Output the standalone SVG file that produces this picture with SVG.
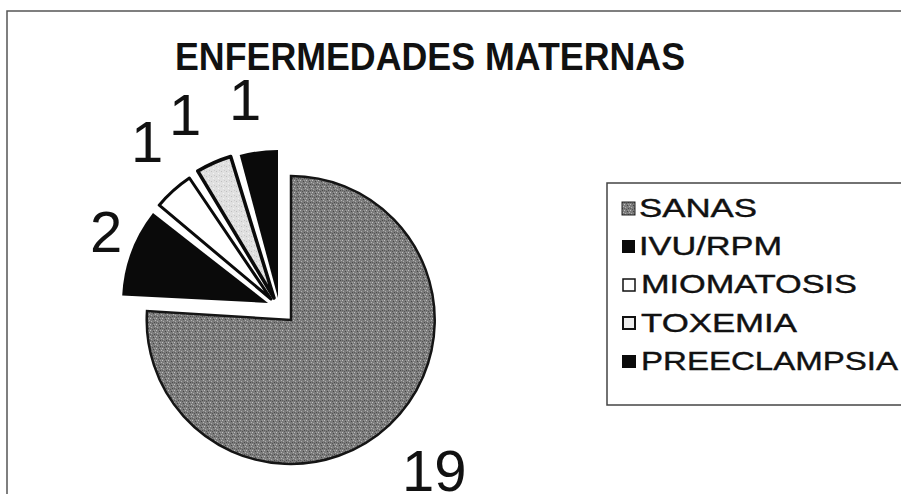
<svg xmlns="http://www.w3.org/2000/svg" width="901" height="494" viewBox="0 0 901 494">
<style>
.lbl{font-family:"Liberation Sans",Arial,sans-serif;font-size:58px;fill:#111}
.title{font-family:"Liberation Sans",Arial,sans-serif;font-size:38px;font-weight:bold;fill:#111}
.leg{font-family:"Liberation Sans",Arial,sans-serif;font-size:26px;fill:#111;stroke:#111;stroke-width:0.4}
.blk{fill:#0a0a0a}
</style>
<defs>
<pattern id="speck" width="6" height="6" patternUnits="userSpaceOnUse">
<rect width="6" height="6" fill="#7c7c7c"/>
<rect x="0" y="0" width="1" height="1" fill="#c0c0c0"/>
<rect x="3" y="1" width="1" height="1" fill="#454545"/>
<rect x="1" y="3" width="1" height="1" fill="#adadad"/>
<rect x="4" y="4" width="1" height="1" fill="#4a4a4a"/>
<rect x="5" y="2" width="1" height="1" fill="#b5b5b5"/>
<rect x="2" y="5" width="1" height="1" fill="#555555"/>
<rect x="4" y="0" width="1" height="1" fill="#9d9d9d"/>
<rect x="0" y="4" width="1" height="1" fill="#5e5e5e"/>
</pattern>
<pattern id="lspeck" width="5" height="5" patternUnits="userSpaceOnUse">
<rect width="5" height="5" fill="#e0e0e0"/>
<rect x="1" y="1" width="1" height="1" fill="#c0c0c0"/>
<rect x="3" y="3" width="1" height="1" fill="#f4f4f4"/>
<rect x="4" y="0" width="1" height="1" fill="#cacaca"/>
</pattern>
</defs>
<rect width="901" height="494" fill="#ffffff"/>
<g id="frame">
<path d="M7,494 L7,11 L901,11" fill="none" stroke="#555" stroke-width="1.5"/>
</g>
<g id="title">
<text class="title" x="175" y="70" textLength="510" lengthAdjust="spacingAndGlyphs">ENFERMEDADES MATERNAS</text>
</g>
<g id="pie">
<g id="slice-sanas">
<path d="M291,320 L291,176 A144,144 0 1 1 147,311 Z" fill="url(#speck)" stroke="#151515" stroke-width="2.5"/>
</g>
<g id="slice-ivu">
<path d="M268,303 L153,213.1 A146,146 0 0 0 122.2,295.4 Z" class="blk"/>
</g>
<g id="slice-mio">
<path d="M271,299 L189.4,178 A146,146 0 0 0 159.2,205.2 Z" fill="#ffffff" stroke="#0a0a0a" stroke-width="3" stroke-linejoin="round"/>
</g>
<g id="slice-tox">
<path d="M274,298 L230.7,156.5 A148,148 0 0 0 197.8,171.1 Z" fill="url(#lspeck)" stroke="#0a0a0a" stroke-width="3.5" stroke-linejoin="round"/>
</g>
<g id="slice-pre">
<path d="M278,298 L278,150 A148,148 0 0 0 239.7,155 Z" class="blk"/>
</g>
</g>
<g id="values">
<text class="lbl" x="402" y="491">19</text>
<text class="lbl" x="90" y="252">2</text>
<text class="lbl" x="131" y="162">1</text>
<text class="lbl" x="169" y="135">1</text>
<text class="lbl" x="229" y="120">1</text>
</g>
<g id="legend">
<rect x="607" y="183" width="310" height="222" fill="#ffffff" stroke="#444" stroke-width="1.5"/>
<g id="leg-sanas">
<rect x="622" y="202" width="13" height="13" fill="url(#speck)" stroke="#222" stroke-width="1"/>
<text class="leg" x="639" y="217" textLength="118" lengthAdjust="spacingAndGlyphs">SANAS</text>
</g>
<g id="leg-ivu">
<rect x="622" y="240" width="13" height="13" class="blk"/>
<text class="leg" x="639" y="255" textLength="143" lengthAdjust="spacingAndGlyphs">IVU/RPM</text>
</g>
<g id="leg-mio">
<rect x="623" y="279" width="12" height="12" fill="#fff" stroke="#111" stroke-width="1.5"/>
<text class="leg" x="641" y="293" textLength="216" lengthAdjust="spacingAndGlyphs">MIOMATOSIS</text>
</g>
<g id="leg-tox">
<rect x="623" y="317" width="12" height="12" fill="#eee" stroke="#111" stroke-width="2"/>
<text class="leg" x="641" y="332" textLength="156" lengthAdjust="spacingAndGlyphs">TOXEMIA</text>
</g>
<g id="leg-pre">
<rect x="622" y="355" width="14" height="13" class="blk"/>
<text class="leg" x="641" y="370" textLength="257" lengthAdjust="spacingAndGlyphs">PREECLAMPSIA</text>
</g>
</g>
</svg>
